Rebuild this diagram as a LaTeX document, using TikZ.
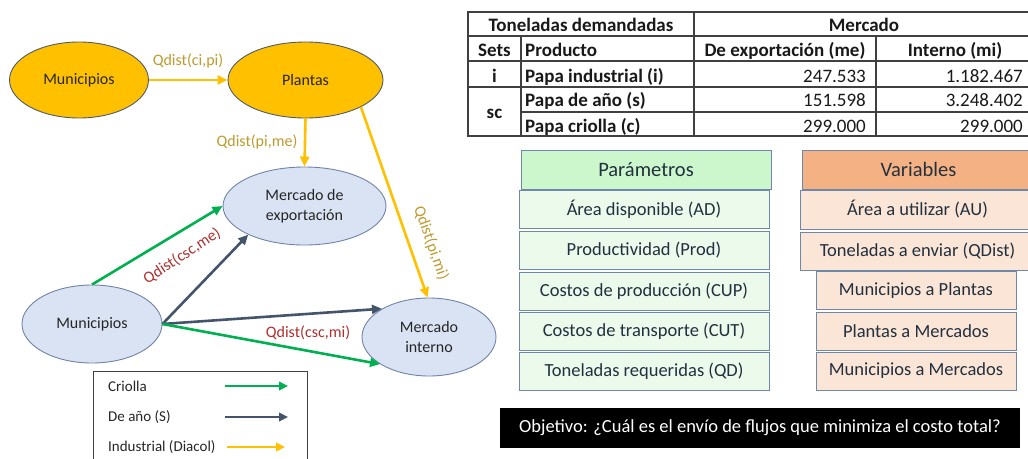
\documentclass[tikz,border=0pt]{standalone}
\usepackage{fontspec}
\setmainfont{Carlito}
\usetikzlibrary{shapes.geometric,arrows.meta}
\definecolor{gold}{HTML}{FFC000}
\definecolor{ordk}{HTML}{4F5B6E}
\definecolor{goldtxt}{HTML}{C09A2E}
\definecolor{bluefill}{HTML}{DAE3F3}
\definecolor{blueedge}{HTML}{6F84A8}
\definecolor{crgreen}{HTML}{00B050}
\definecolor{slate}{HTML}{44546A}
\definecolor{redtxt}{HTML}{B0302E}
\definecolor{paramhead}{HTML}{CCF7CC}
\definecolor{paramrow}{HTML}{EBFAEB}
\definecolor{varhead}{HTML}{F4B183}
\definecolor{varrow}{HTML}{FBE5D6}
\definecolor{boxedge}{HTML}{6F87A8}
\definecolor{navytxt}{HTML}{22303F}
\definecolor{tline}{HTML}{404040}
\begin{document}
\begin{tikzpicture}[x=1pt,y=-1pt,
  ell/.style={ellipse, draw, line width=0.9pt, inner sep=0pt, align=center,
    font=\fontsize{16}{20}\selectfont, text=black!85},
  orell/.style={ell, fill=gold, draw=ordk},
  blell/.style={ell, fill=bluefill, draw=blueedge},
  arr/.style={line width=2.6pt, -{Triangle[length=10pt,width=9pt]}},
  legarr/.style={line width=2.6pt, -{Triangle[length=9pt,width=8.5pt]}},
  lab/.style={inner sep=0pt, font=\fontsize{16}{19}\selectfont},
  legt/.style={inner sep=0pt, font=\fontsize{15}{18}\selectfont, text=black!85},
  tb/.style={inner sep=0pt, font=\fontsize{19}{22}\selectfont\bfseries, text=black!90},
  tn/.style={inner sep=0pt, font=\fontsize{19}{22}\selectfont, text=black!90},
  tab/.style={draw=tline, line width=1.1pt},
  pbox/.style={draw=boxedge, line width=1pt, inner sep=0pt, minimum height=38pt,
    font=\fontsize{18.5}{22}\selectfont, text=navytxt},
  phead/.style={pbox, minimum height=39pt, font=\fontsize{20.5}{24}\selectfont}
]
\useasboundingbox (0,0) rectangle (1028,458);
\fill[white] (0,0) rectangle (1028,458);

% ---------- network ----------
\node[orell, minimum width=139pt, minimum height=76pt] (mo) at (79,80) {Municipios};
\node[orell, minimum width=155pt, minimum height=76pt] (pl) at (305.5,80) {Plantas};
\node[blell, minimum width=163pt, minimum height=78pt] (mde) at (304.5,206) {Mercado de\\exportación};
\node[blell, minimum width=140pt, minimum height=78pt] (mb) at (92,324) {Municipios};
\node[blell, minimum width=134pt, minimum height=78pt] (mi) at (429,337) {Mercado\\interno};

\draw[arr, draw=gold] (mo) -- (pl);
\draw[arr, draw=gold] (pl.south) -- (mde.north);
\draw[arr, draw=gold] (pl.-26) -- (mi.92);
\draw[arr, draw=crgreen] (mb.north) -- (mde.west);
\draw[arr, draw=slate] (mb.east) -- (mde.207);
\draw[arr, draw=slate] (mb.east) -- (mi.149);
\draw[arr, draw=crgreen] (mb.east) -- (mi.209);

\node[lab, text=goldtxt] (l1) at (188,61) {Qdist(ci,pi)};
\node[lab, text=goldtxt] (l2) at (257,142) {Qdist(pi,me)};
\node[lab, text=goldtxt, rotate=-70.6] (l3) at (431,243) {Qdist(pi,mi)};
\node[lab, text=redtxt, rotate=33] (l4) at (182,256) {Qdist(csc,me)};
\node[lab, text=redtxt] (l5) at (308,333) {Qdist(csc,mi)};

% ---------- legend ----------
\node[draw=black!75, line width=1pt, minimum width=214pt, minimum height=100pt,
  anchor=north west, inner sep=0pt] (leg) at (93,371) {};
\node[legt, anchor=west] (lc) at (108,386) {Criolla};
\node[legt, anchor=west] (ls) at (108,417) {De año (S)};
\node[legt, anchor=west] (ld) at (108,447) {Industrial (Diacol)};
\coordinate (lca) at (225,386); \coordinate (lcb) at (288,386);
\coordinate (lsa) at (225,417); \coordinate (lsb) at (288,417);
\coordinate (lda) at (227,447); \coordinate (ldb) at (285,447);
\draw[legarr, draw=crgreen] (lca) -- (lcb);
\draw[legarr, draw=slate] (lsa) -- (lsb);
\draw[legarr, draw=gold] (lda) -- (ldb);

% ---------- table ----------
\draw[tab] (468,12) rectangle (1034,136);
\draw[tab] (468,36) -- (1034,36);
\draw[tab] (468,61) -- (1034,61);
\draw[tab] (468,87) -- (1034,87);
\draw[tab] (521,112) -- (1034,112);
\draw[tab] (521,36) -- (521,136);
\draw[tab] (694,12) -- (694,136);
\draw[tab] (876,36) -- (876,136);

\node[tb, anchor=base] (t11) at (581,31) {Toneladas demandadas};
\node[tb, anchor=base] (t12) at (864,31) {Mercado};
\node[tb, anchor=base] (t21) at (494.5,56) {Sets};
\node[tb, anchor=base west] (t22) at (525,56) {Producto};
\node[tb, anchor=base] (t23) at (785,56) {De exportación (me)};
\node[tb, anchor=base] (t24) at (955,56) {Interno (mi)};
\node[tb, anchor=base] (t31) at (494.5,82) {i};
\node[tb, anchor=base west] (t32) at (525,82) {Papa industrial (i)};
\node[tn, anchor=base east] (t33) at (866,82) {247.533};
\node[tn, anchor=base east] (t34) at (1023,82) {1.182.467};
\node[tb, anchor=base] (t41) at (494.5,118) {sc};
\node[tb, anchor=base west] (t42) at (525,106) {Papa de año (s)};
\node[tn, anchor=base east] (t43) at (866,106) {151.598};
\node[tn, anchor=base east] (t44) at (1023,106) {3.248.402};
\node[tb, anchor=base west] (t52) at (525,132) {Papa criolla (c)};
\node[tn, anchor=base east] (t53) at (866,132) {299.000};
\node[tn, anchor=base east] (t54) at (1023,132) {299.000};

% ---------- parameters ----------
\node[phead, fill=paramhead, minimum width=250pt] (ph) at (646,169.5) {Parámetros};
\node[pbox, fill=paramrow, minimum width=250pt] (p1) at (644,209) {Área disponible (AD)};
\node[pbox, fill=paramrow, minimum width=250pt] (p2) at (644,250) {Productividad (Prod)};
\node[pbox, fill=paramrow, minimum width=250pt] (p3) at (644,291) {Costos de producción (CUP)};
\node[pbox, fill=paramrow, minimum width=250pt] (p4) at (644,331) {Costos de transporte (CUT)};
\node[pbox, fill=paramrow, minimum width=250pt] (p5) at (644,371) {Toneladas requeridas (QD)};

% ---------- variables ----------
\node[phead, fill=varhead, minimum width=233pt] (vh) at (918.5,169.5) {Variables};
\node[pbox, fill=varrow, minimum width=235pt, minimum height=39pt] (v1) at (917.5,209.5) {Área a utilizar (AU)};
\node[pbox, fill=varrow, minimum width=235pt] (v2) at (917.5,251) {Toneladas a enviar (QDist)};
\node[pbox, fill=varrow, minimum width=200pt] (v3) at (916,290.5) {Municipios a Plantas};
\node[pbox, fill=varrow, minimum width=200pt] (v4) at (916,331) {Plantas a Mercados};
\node[pbox, fill=varrow, minimum width=200pt] (v5) at (916,371) {Municipios a Mercados};

% ---------- objective ----------
\node[fill=black, minimum width=520pt, minimum height=40pt, inner sep=0pt, text=white,
  font=\fontsize{18.5}{22}\selectfont] (obj) at (760,428)
  {Objetivo: ¿Cuál es el envío de flujos que minimiza el costo total?};
\end{tikzpicture}
\end{document}
